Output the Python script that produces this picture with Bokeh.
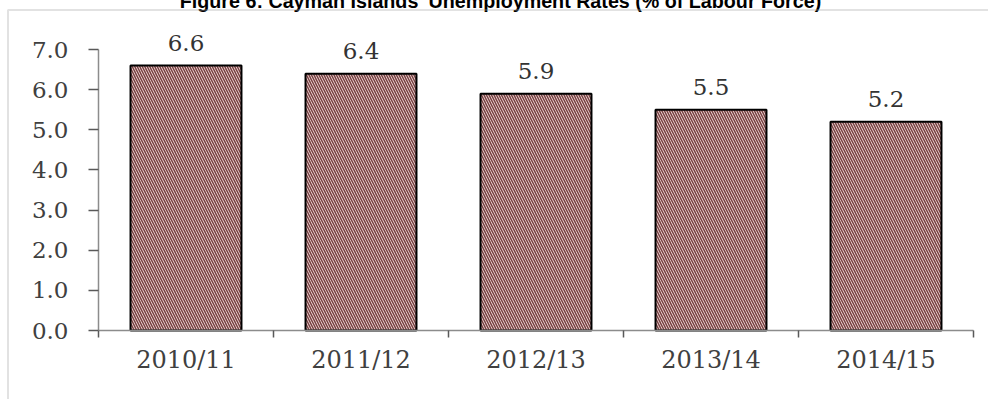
import numpy as np
from bokeh.plotting import figure
from bokeh.models import (ColumnDataSource, Range1d, FixedTicker, LabelSet, Label,
                          BoxAnnotation, LinearAxis, NumeralTickFormatter)
from bokeh.core.properties import value
from bokeh.embed import file_html
from bokeh.resources import INLINE

# ---- data ----
categories = ["2010/11", "2011/12", "2012/13", "2013/14", "2014/15"]
rates = [6.6, 6.4, 5.9, 5.5, 5.2]
y_ticks = [0, 1, 2, 3, 4, 5, 6, 7]
title_text = "Figure 6: Cayman Islands' Unemployment Rates (% of Labour Force)"

# ---- layout (pixels) ----
W, H = 982, 411          # canvas size
AXIS_X, AXIS_Y = 92, 342  # where the y axis / x axis sit on the canvas
PX_PER_CAT = 175.0
PX_PER_UNIT = 40.133
Y_MAX = 7

x_pos = (np.arange(len(categories)) + 0.5).tolist()
boundaries = list(range(len(categories) + 1))
src = ColumnDataSource(dict(x=x_pos, top=rates, label=[f"{v:.1f}" for v in rates]))

SERIF = "DejaVu Serif"

x_range = Range1d(-AXIS_X / PX_PER_CAT, (W - AXIS_X) / PX_PER_CAT)
y_range = Range1d(-(H - AXIS_Y) / PX_PER_UNIT, AXIS_Y / PX_PER_UNIT)

p = figure(width=W, height=H, min_border=0,
           x_range=x_range, y_range=y_range,
           x_axis_type=None, y_axis_type=None, title=None,
           output_backend="svg", toolbar_location=None)
p.outline_line_color = None
p.background_fill_color = "white"
p.border_fill_color = "white"
p.styles = {"margin-top": "-12px", "margin-left": "6px", "margin-bottom": "-10px"}

# y axis
yaxis = LinearAxis(ticker=FixedTicker(ticks=y_ticks, minor_ticks=[]), bounds=(0, Y_MAX),
                   formatter=NumeralTickFormatter(format="0.0"), fixed_location=0)
yaxis.axis_line_color = "#8c8c8c"
yaxis.axis_line_width = 1.5
yaxis.major_tick_line_color = "#595959"
yaxis.major_tick_line_width = 1.5
yaxis.major_tick_in = 0
yaxis.major_tick_out = 10
yaxis.minor_tick_line_color = None
yaxis.major_label_standoff = 20
yaxis.major_label_text_font = SERIF
yaxis.major_label_text_font_size = "23px"
yaxis.major_label_text_color = "#404040"
p.add_layout(yaxis, "left")

# x axis
xaxis = LinearAxis(ticker=FixedTicker(ticks=x_pos, minor_ticks=boundaries),
                   bounds=(0, len(categories)), fixed_location=0,
                   major_label_overrides={xi: c for xi, c in zip(x_pos, categories)})
xaxis.axis_line_color = "#8c8c8c"
xaxis.axis_line_width = 1.5
xaxis.major_tick_line_color = None
xaxis.major_tick_in = 0
xaxis.major_tick_out = 7
xaxis.minor_tick_line_color = "#595959"
xaxis.minor_tick_line_width = 1.5
xaxis.minor_tick_in = 0
xaxis.minor_tick_out = 7
xaxis.major_label_standoff = 8
xaxis.major_label_text_font = SERIF
xaxis.major_label_text_font_size = "24px"
xaxis.major_label_text_color = "#404040"
p.add_layout(xaxis, "below")

# bars
p.vbar(x="x", top="top", width=0.634, bottom=0, source=src,
       fill_color="#f5dcdc", hatch_pattern="left_diagonal_line", hatch_color="#774242",
       hatch_scale=5, hatch_weight=1.5, line_color="black", line_width=2)

# value labels
p.add_layout(LabelSet(x="x", y="top", text="label", source=src, y_offset=15,
                      text_align="center", text_baseline="alphabetic",
                      text_font=value(SERIF), text_font_size="23px", text_color="#333333"))

# title (partly cut off at top, as in the reference)
p.add_layout(Label(x=494, y=12, x_units="canvas", y_units="canvas", text=title_text,
                   text_align="center", text_baseline="alphabetic",
                   text_font="Liberation Sans", text_font_style="bold",
                   text_font_size="19.7px", text_color="black"))

# outer chart border (top and left visible)
p.add_layout(BoxAnnotation(left=1.5, right=3000, top=21.5, bottom=3000,
                           left_units="canvas", right_units="canvas",
                           top_units="canvas", bottom_units="canvas",
                           fill_alpha=0, line_color="#a0a0a0", line_width=2))

open("out.html", "w").write(file_html(p, INLINE))
